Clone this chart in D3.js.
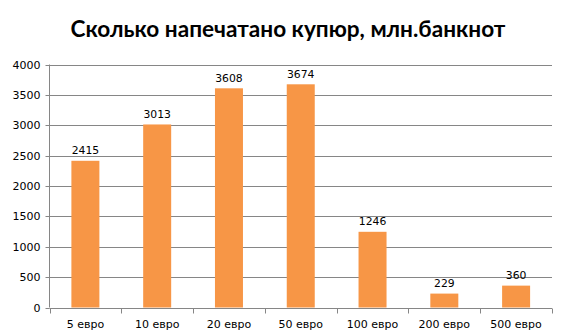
<!DOCTYPE html>
<html><head><meta charset="utf-8">
<script src="https://cdn.jsdelivr.net/npm/d3@7"></script>
<style>body{margin:0;background:#fff}svg{display:block}</style>
</head><body>
<svg id="c" width="576" height="336"></svg>
<script>
const categories = ["5 евро","10 евро","20 евро","50 евро","100 евро","200 евро","500 евро"];
const values = [2415,3013,3608,3674,1246,229,360];
const yTicks = [0,500,1000,1500,2000,2500,3000,3500,4000];
const title = "Сколько напечатано купюр, млн.банкнот";

const svg = d3.select("#c");
const m = {l:49.5, r:552, t:64.5, b:307.5};
const x = d3.scaleBand().domain(categories).range([m.l, m.r]).paddingInner(0.61).paddingOuter(0.305);
const y = d3.scaleLinear().domain([0,4000]).range([m.b, m.t]);
const font = "'DejaVu Sans', Verdana, sans-serif";

svg.append("text").attr("x", 288).attr("y", 37).attr("text-anchor","middle")
  .attr("font-family","Lato, 'Open Sans', sans-serif").attr("font-weight","bold").attr("font-size",22.6)
  .attr("fill","#000").text(title);

// gridlines
svg.append("g").selectAll("line").data(yTicks.filter(d=>d>0)).join("line")
  .attr("x1", m.l).attr("x2", m.r).attr("y1", d=>Math.round(y(d))+0.5).attr("y2", d=>Math.round(y(d))+0.5)
  .attr("stroke","#868686").attr("stroke-width",1);

// y axis
const ya = svg.append("g").attr("transform",`translate(${m.l},0)`)
  .call(d3.axisLeft(y).tickValues(yTicks).tickSize(4).tickPadding(5).tickFormat(d3.format("d")));
ya.select(".domain").attr("stroke","#868686").attr("d",`M0,${m.t}V${m.b}`);
ya.selectAll(".tick line").attr("stroke","#868686");
ya.selectAll(".tick").attr("transform", d=>`translate(0,${Math.round(y(d))+0.5})`);
ya.selectAll("text").attr("font-family",font).attr("font-size",11).attr("fill","#000");

// bars
svg.append("g").selectAll("rect").data(values).join("rect")
  .attr("x",(d,i)=>x(categories[i])).attr("width",x.bandwidth())
  .attr("y",d=>y(d)).attr("height",d=>y(0)-y(d)).attr("fill","#F79646");

// labels
svg.append("g").selectAll("text").data(values).join("text")
  .attr("x",(d,i)=>x(categories[i])+x.bandwidth()/2).attr("y",d=>y(d)-6.5)
  .attr("text-anchor","middle").attr("font-family",font).attr("font-size",10.8).attr("fill","#000")
  .text(d=>d);

// x axis
const xa = svg.append("g").attr("transform",`translate(0,${Math.round(m.b)+0.5})`);
xa.append("line").attr("x1",m.l).attr("x2",m.r).attr("stroke","#868686");
const bounds = categories.map((c,i)=>m.l + i*(m.r-m.l)/categories.length).concat([m.r]);
xa.selectAll("line.t").data(bounds).join("line").attr("class","t")
  .attr("x1",d=>Math.round(d)+0.5).attr("x2",d=>Math.round(d)+0.5).attr("y1",0).attr("y2",5).attr("stroke","#868686");
xa.selectAll("text").data(categories).join("text")
  .attr("x",d=>x(d)+x.bandwidth()/2).attr("y",19).attr("text-anchor","middle")
  .attr("font-family",font).attr("font-size",11).attr("fill","#000").text(d=>d);
</script>
</body></html>
